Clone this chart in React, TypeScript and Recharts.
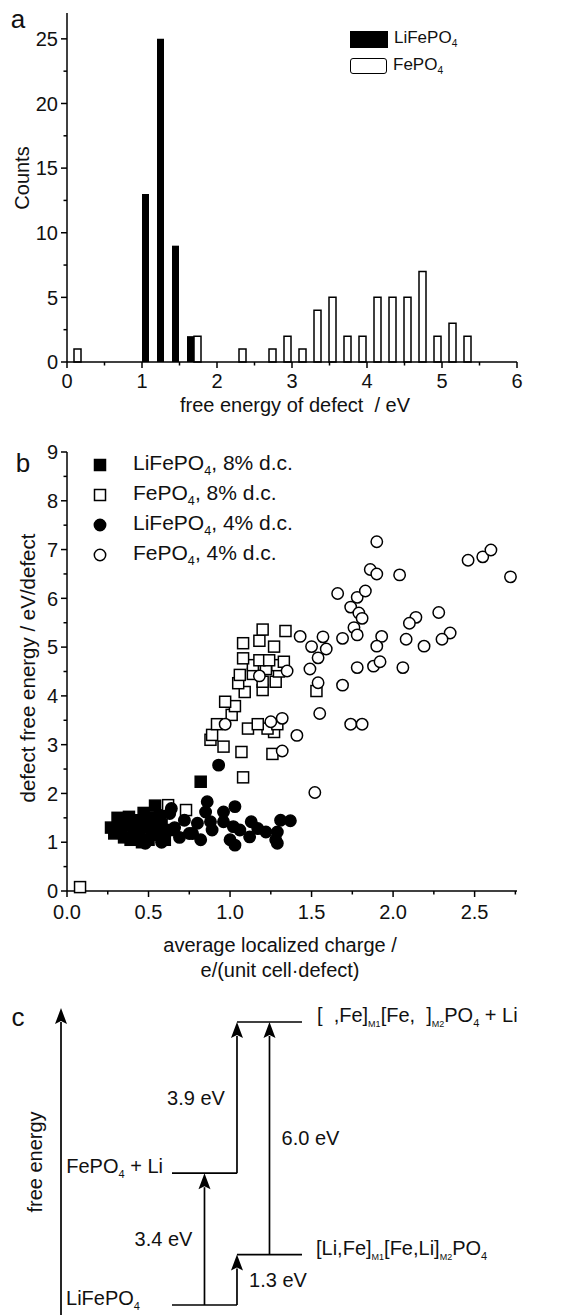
import React from 'react';
import {
  BarChart,
  Bar,
  XAxis,
  YAxis,
  ScatterChart,
  Scatter,
  ComposedChart,
  ReferenceLine,
} from 'recharts';

const FONT = '"Liberation Sans", Arial, Helvetica, sans-serif';
const INK = '#111';
const FS = 20;
const AXIS = { stroke: '#000', strokeWidth: 1.5 };

// ---------- panel a: histogram, bins of 0.2 eV
const binCenters = [0.1, 1.1, 1.3, 1.5, 1.7, 2.3, 2.7, 2.9, 3.1, 3.3, 3.5, 3.7, 3.9, 4.1, 4.3, 4.5, 4.7, 4.9, 5.1, 5.3];
const lifepo4Counts = [null, 13, 25, 9, 2, null, null, null, null, null, null, null, null, null, null, null, null, null, null, null];
const fepo4Counts = [1, null, null, null, 2, 1, 1, 2, 1, 4, 5, 2, 2, 5, 5, 5, 7, 2, 3, 2];
const energyTicks = [0, 0.5, 1, 1.5, 2, 2.5, 3, 3.5, 4, 4.5, 5, 5.5, 6];
const countTicks = [0, 2.5, 5, 7.5, 10, 12.5, 15, 17.5, 20, 22.5, 25];

// ---------- panel b: scatter, [charge, free energy]
const lfp8 = [
  [0.27, 1.3], [0.29, 1.18], [0.31, 1.5], [0.33, 1.25], [0.35, 1.1], [0.36, 1.42], [0.38, 1.52],
  [0.39, 1.05], [0.4, 1.35], [0.42, 1.2], [0.44, 1.1], [0.45, 1.45], [0.46, 1.0], [0.47, 1.6],
  [0.48, 1.3], [0.49, 1.42], [0.5, 1.05], [0.52, 1.25], [0.53, 1.5], [0.54, 1.75], [0.56, 1.15],
  [0.57, 1.55], [0.58, 1.35], [0.6, 1.05], [0.62, 1.25], [0.82, 2.24],
];
const fp8 = [
  [0.08, 0.08], [0.62, 1.76], [0.73, 1.66], [1.08, 2.33], [1.26, 2.81], [1.07, 2.85], [0.96, 2.96],
  [0.88, 3.1], [0.89, 3.2], [1.27, 3.26], [1.11, 3.33], [1.23, 3.33], [0.92, 3.42], [1.17, 3.42],
  [1.29, 3.42], [1.01, 3.61], [1.03, 3.79], [0.97, 3.88], [1.09, 4.08], [1.53, 4.1], [1.2, 4.12],
  [1.05, 4.26], [1.2, 4.29], [1.28, 4.29], [1.06, 4.43], [1.14, 4.45], [1.3, 4.5], [1.22, 4.55],
  [1.14, 4.63], [1.29, 4.63], [1.33, 4.7], [1.18, 4.73], [1.24, 4.73], [1.08, 4.77], [1.27, 5.01],
  [1.08, 5.08], [1.18, 5.13], [1.34, 5.33], [1.2, 5.36],
];
const lfp4 = [
  [0.93, 2.58], [0.86, 1.83], [0.85, 1.62], [0.96, 1.62], [1.03, 1.73], [0.88, 1.42], [0.96, 1.42],
  [0.8, 1.39], [0.89, 1.25], [1.02, 1.32], [1.06, 1.25], [1.13, 1.42], [1.17, 1.28], [1.22, 1.21],
  [1.29, 1.21], [1.31, 1.45], [1.37, 1.44], [1.0, 1.05], [1.12, 1.11], [1.28, 1.05], [1.03, 0.94],
  [1.29, 0.98], [0.75, 1.18], [0.82, 1.05], [0.64, 1.69], [0.39, 1.11], [0.63, 1.59], [0.77, 1.18],
  [0.45, 1.25], [0.55, 1.4], [0.66, 1.3], [0.69, 1.1], [0.72, 1.45], [0.58, 1.0], [0.48, 0.98],
];
const fp4 = [
  [1.9, 7.16], [2.46, 6.78], [2.55, 6.85], [2.6, 6.99], [2.72, 6.44], [1.86, 6.59], [1.9, 6.5],
  [2.04, 6.48], [1.66, 6.1], [1.78, 6.02], [1.83, 6.15], [1.74, 5.82], [1.79, 5.7], [1.81, 5.59],
  [1.76, 5.4], [1.78, 5.25], [1.69, 5.18], [2.14, 5.61], [2.1, 5.49], [2.28, 5.71], [2.35, 5.29],
  [2.3, 5.16], [2.08, 5.16], [2.19, 5.02], [1.93, 5.22], [1.9, 5.02], [1.43, 5.22], [1.57, 5.21],
  [1.5, 5.01], [1.59, 4.96], [1.54, 4.78], [1.49, 4.55], [1.35, 4.51], [1.18, 4.41], [1.78, 4.58],
  [1.88, 4.61], [1.92, 4.7], [2.06, 4.58], [1.54, 4.27], [1.69, 4.22], [1.55, 3.64], [1.74, 3.42],
  [1.81, 3.42], [1.25, 3.47], [1.32, 3.54], [1.41, 3.19], [1.32, 2.87], [1.52, 2.02], [0.97, 3.42],
];
const chargeTicks = [0, 0.25, 0.5, 0.75, 1, 1.25, 1.5, 1.75, 2, 2.25, 2.5, 2.75];
const freeTicks = [0, 0.5, 1, 1.5, 2, 2.5, 3, 3.5, 4, 4.5, 5, 5.5, 6, 6.5, 7, 7.5, 8, 8.5, 9];

// ---------- panel c: level scheme
const levelNames = ['LiFePO_4', '[Li,Fe]_{M1}[Fe,Li]_{M2}PO_4', 'FePO_4 + Li', '[  ,Fe]_{M1}[Fe,  ]_{M2}PO_4 + Li'];
const levelEnergies = [0, 1.3, 3.4, 7.3];
const stepValues = [3.4, 1.3, 3.9, 6.0];
const stepFrom = [0, 0, 2, 1]; // index into levels
const stepTo = [2, 1, 3, 3];

const histData = binCenters.map((x, i) => ({ x, lfp: lifepo4Counts[i], fp: fepo4Counts[i] }));
const toPts = (arr: number[][]) => arr.map(([x, y]) => ({ x, y }));

const near = (v: number, step: number) => Math.abs(v / step - Math.round(v / step)) < 1e-6;

const xTick = (isMajor: (v: number) => boolean, fmt: (v: number) => string, dy: number) => (props: any) => {
  const { x, y, payload } = props;
  const v = payload.value;
  const m = isMajor(v);
  return (
    <g>
      <line x1={x} x2={x} y1={y} y2={y + (m ? 6 : 3.5)} stroke="#000" strokeWidth={1.5} />
      {m && (
        <text x={x} y={y + dy} textAnchor="middle" fontSize={FS} fontFamily={FONT} fill={INK}>
          {fmt(v)}
        </text>
      )}
    </g>
  );
};

const yTick = (isMajor: (v: number) => boolean, fmt: (v: number) => string) => (props: any) => {
  const { x, y, payload } = props;
  const v = payload.value;
  const m = isMajor(v);
  return (
    <g>
      <line x1={x} x2={x - (m ? 6 : 3.5)} y1={y} y2={y} stroke="#000" strokeWidth={1.5} />
      {m && (
        <text x={x - 9} y={y} dy="0.36em" textAnchor="end" fontSize={FS} fontFamily={FONT} fill={INK}>
          {fmt(v)}
        </text>
      )}
    </g>
  );
};

const Txt = ({ x, y, size = FS, rotate = false, children }: any) => (
  <div
    style={{
      position: 'absolute',
      left: x,
      top: y,
      transform: `translate(-50%, -50%)${rotate ? ' rotate(-90deg)' : ''}`,
      fontSize: size,
      lineHeight: 1,
      whiteSpace: 'nowrap',
      fontFamily: FONT,
      color: INK,
    }}
  >
    {children}
  </div>
);

const Sub = ({ children }: any) => (
  <span style={{ fontSize: '0.6em', verticalAlign: '-0.4em' }}>{children}</span>
);

// turns "PO_4" / "]_{M1}" into svg tspans with subscripts
const richText = (s: string) => {
  const parts: React.ReactNode[] = [];
  const re = /_\{([^}]*)\}|_(\w)/g;
  let last = 0;
  let m: RegExpExecArray | null;
  let k = 0;
  let lowered = false;
  while ((m = re.exec(s))) {
    if (m.index > last) {
      parts.push(<tspan key={k++} dy={lowered ? -5 : 0}>{s.slice(last, m.index)}</tspan>);
      lowered = false;
    }
    parts.push(<tspan key={k++} dy={lowered ? 0 : 5} fontSize={m[1] ? 9 : 11}>{m[1] || m[2]}</tspan>);
    lowered = true;
    last = m.index + m[0].length;
  }
  if (last < s.length) parts.push(<tspan key={k++} dy={lowered ? -5 : 0}>{s.slice(last)}</tspan>);
  return parts;
};

function PanelA() {
  return (
    <div style={{ position: 'absolute', left: 0, top: 0, width: 577, height: 420 }}>
      <BarChart width={577} height={420} data={histData} margin={{ top: 13, right: 60, bottom: 0, left: 0 }} barGap={0}>
        <XAxis
          type="number"
          dataKey="x"
          domain={[0, 6]}
          ticks={energyTicks}
          interval={0}
          height={58}
          tickSize={0}
          tickMargin={0}
          tickLine={false}
          axisLine={AXIS}
          tick={xTick((v) => near(v, 1), (v) => String(v), 26)}
        />
        <YAxis
          type="number"
          domain={[0, 27]}
          ticks={countTicks}
          interval={0}
          width={67}
          tickSize={0}
          tickMargin={0}
          tickLine={false}
          axisLine={AXIS}
          tick={yTick((v) => near(v, 5), (v) => String(v))}
        />
        <Bar dataKey="lfp" fill="#000" barSize={7} isAnimationActive={false} />
        <Bar dataKey="fp" fill="#fff" stroke="#000" strokeWidth={1.5} barSize={7} isAnimationActive={false} />
      </BarChart>
      <Txt x={18} y={19} size={26}>a</Txt>
      <Txt x={22} y={178} rotate>Counts</Txt>
      <Txt x={295} y={405}>free energy of defect&nbsp; / eV</Txt>
      <div style={{ position: 'absolute', left: 350, top: 30, fontFamily: FONT, fontSize: 17, color: INK }}>
        <div style={{ display: 'flex', alignItems: 'center', height: 18 }}>
          <span style={{ width: 38, height: 17, background: '#000', display: 'inline-block', marginRight: 6 }} />
          <span>LiFePO<Sub>4</Sub></span>
        </div>
        <div style={{ display: 'flex', alignItems: 'center', height: 18, marginTop: 9 }}>
          <span style={{ width: 35, height: 14, border: '1.5px solid #000', borderRadius: 3, display: 'inline-block', marginRight: 6 }} />
          <span>FePO<Sub>4</Sub></span>
        </div>
      </div>
    </div>
  );
}

const square = (fill: string) => (p: any) => (
  <rect x={p.cx - 5.5} y={p.cy - 5.5} width={11} height={11} fill={fill} stroke="#000" strokeWidth={1.5} />
);
const circle = (fill: string) => (p: any) => (
  <circle cx={p.cx} cy={p.cy} r={5.7} fill={fill} stroke="#000" strokeWidth={1.5} />
);

const legendB = [
  { icon: 'sq', fill: '#000', name: 'LiFePO', rest: ', 8% d.c.' },
  { icon: 'sq', fill: '#fff', name: 'FePO', rest: ', 8% d.c.' },
  { icon: 'ci', fill: '#000', name: 'LiFePO', rest: ', 4% d.c.' },
  { icon: 'ci', fill: '#fff', name: 'FePO', rest: ', 4% d.c.' },
];

function PanelB() {
  return (
    <div style={{ position: 'absolute', left: 0, top: 420, width: 577, height: 570 }}>
      <ScatterChart width={577} height={570} margin={{ top: 32, right: 60, bottom: 0, left: 0 }}>
        <XAxis
          type="number"
          dataKey="x"
          domain={[0, 2.76]}
          ticks={chargeTicks}
          interval={0}
          height={99}
          tickSize={0}
          tickMargin={0}
          tickLine={false}
          axisLine={AXIS}
          tick={xTick((v) => near(v, 0.5), (v) => v.toFixed(1), 28)}
        />
        <YAxis
          type="number"
          dataKey="y"
          domain={[0, 9]}
          ticks={freeTicks}
          interval={0}
          width={67}
          tickSize={0}
          tickMargin={0}
          tickLine={false}
          axisLine={AXIS}
          tick={yTick((v) => near(v, 1), (v) => String(v))}
        />
        <Scatter data={toPts(lfp8)} shape={square('#000')} isAnimationActive={false} />
        <Scatter data={toPts(fp8)} shape={square('#fff')} isAnimationActive={false} />
        <Scatter data={toPts(lfp4)} shape={circle('#000')} isAnimationActive={false} />
        <Scatter data={toPts(fp4)} shape={circle('#fff')} isAnimationActive={false} />
      </ScatterChart>
      <Txt x={23} y={43} size={26}>b</Txt>
      <Txt x={28} y={248} size={20.5} rotate>defect free energy / eV/defect</Txt>
      <Txt x={280} y={525}>average localized charge /</Txt>
      <Txt x={280} y={550}>e/(unit cell·defect)</Txt>
      {legendB.map((l, i) => (
        <div key={i} style={{ position: 'absolute', left: 90, top: 45 + i * 30 - 12, height: 24, display: 'flex', alignItems: 'center', fontFamily: FONT, fontSize: 21, color: INK, whiteSpace: 'nowrap' }}>
          <svg width={20} height={20} style={{ marginRight: 23 }}>
            {l.icon === 'sq' ? (
              <rect x={4.5} y={4.5} width={11} height={11} fill={l.fill} stroke="#000" strokeWidth={1.5} />
            ) : (
              <circle cx={10} cy={10} r={5.7} fill={l.fill} stroke="#000" strokeWidth={1.5} />
            )}
          </svg>
          <span>{l.name}<Sub>4</Sub>{l.rest}</span>
        </div>
      ))}
    </div>
  );
}

// horizontal placement of the scheme (diagram columns)
const levelSpans = [[0, 2], [2, 4], [0, 2], [2, 4]];
const levelLabelSide = ['left', 'right', 'left', 'right'];
const levelLabelGap = [32, 14, 9, 15];
const stepColumn = [1, 2, 2, 3];
const stepLabelSide = [-1, 1, -1, 1];

const levelShape = (i: number) => (p: any) => {
  const left = levelLabelSide[i] === 'left';
  return (
    <g>
      <line x1={p.x1} y1={p.y1} x2={p.x2} y2={p.y2} stroke="#000" strokeWidth={1.7} />
      <text
        x={left ? p.x1 - levelLabelGap[i] : p.x2 + levelLabelGap[i]}
        y={p.y1}
        dy={i === 0 ? '0.5em' : '0.36em'}
        textAnchor={left ? 'end' : 'start'}
        fontSize={FS}
        fontFamily={FONT}
        fill={INK}
        style={{ whiteSpace: 'pre' }}
      >
        {richText(levelNames[i])}
      </text>
    </g>
  );
};

const arrowShape = (label: string, side: number) => (p: any) => {
  const { x1, y1, x2, y2 } = p;
  const dir = y2 < y1 ? -1 : 1;
  const hl = 16;
  const hw = 6;
  return (
    <g>
      <line x1={x1} y1={y1} x2={x2} y2={y2 - dir * (hl - 2)} stroke="#000" strokeWidth={1.7} />
      <polygon points={`${x2},${y2} ${x2 - hw},${y2 - dir * hl} ${x2},${y2 - dir * (hl - 3)} ${x2 + hw},${y2 - dir * hl}`} fill="#000" />
      {label && (
        <text x={x1 + side * 41} y={(y1 + y2) / 2} dy="0.36em" textAnchor="middle" fontSize={FS} fontFamily={FONT} fill={INK}>
          {label}
        </text>
      )}
    </g>
  );
};

function PanelC() {
  return (
    <div style={{ position: 'absolute', left: 0, top: 990, width: 577, height: 325 }}>
      <ComposedChart width={577} height={325} data={levelEnergies.map((e, i) => ({ x: levelSpans[i][0], e }))} margin={{ top: 0, right: 0, bottom: 0, left: 0 }}>
        <XAxis type="number" dataKey="x" domain={[-5.292, 12.462]} hide allowDataOverflow />
        <YAxis type="number" domain={[-0.258, 8.125]} hide allowDataOverflow />
        <ReferenceLine
          segment={[{ x: -3.415, y: -0.258 }, { x: -3.415, y: 7.66 }]}
          ifOverflow="visible"
          shape={arrowShape('', 0)}
        />
        {levelEnergies.map((e, i) => (
          <ReferenceLine
            key={'l' + i}
            segment={[{ x: levelSpans[i][0], y: e }, { x: levelSpans[i][1], y: e }]}
            ifOverflow="visible"
            shape={levelShape(i)}
          />
        ))}
        {stepValues.map((v, i) => (
          <ReferenceLine
            key={'s' + i}
            segment={[{ x: stepColumn[i], y: levelEnergies[stepFrom[i]] }, { x: stepColumn[i], y: levelEnergies[stepTo[i]] }]}
            ifOverflow="visible"
            shape={arrowShape(`${v.toFixed(1)} eV`, stepLabelSide[i])}
          />
        ))}
      </ComposedChart>
      <Txt x={18} y={27} size={26}>c</Txt>
      <Txt x={35} y={172} rotate>free energy</Txt>
    </div>
  );
}

export default function App() {
  return (
    <div
      style={{
        position: 'absolute',
        left: 0,
        top: 0,
        width: 577,
        height: 1315,
        background: '#fff',
        overflow: 'hidden',
      }}
    >
      <PanelA />
      <PanelB />
      <PanelC />
    </div>
  );
}
